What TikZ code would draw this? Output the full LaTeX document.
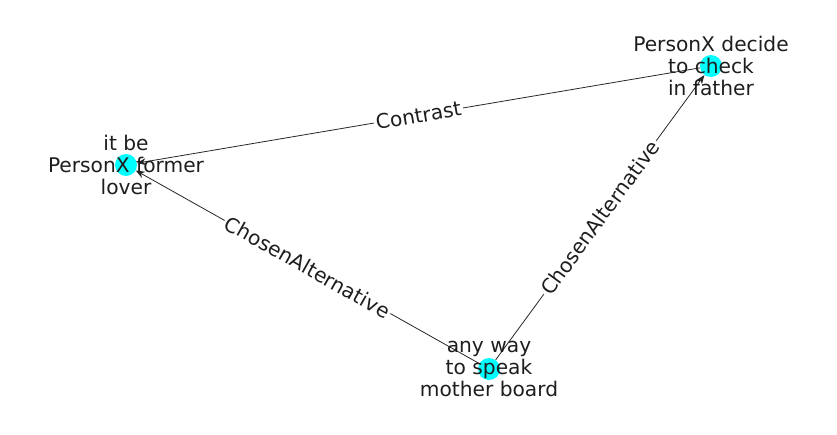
\documentclass[tikz,border=0pt]{standalone}
\usepackage{fontspec}
\setmainfont{DejaVu Sans}
\usetikzlibrary{arrows.meta}
\definecolor{nodecyan}{RGB}{0,255,255}
\definecolor{txt}{RGB}{30,30,30}
\tikzset{
  dot/.style={circle,fill=nodecyan,draw=none,minimum size=22pt,inner sep=0pt},
  lbl/.style={align=center,text=txt,font=\fontsize{20.2}{22}\selectfont,inner sep=0pt},
  edge/.style={draw=black!85,line width=0.8pt,-{Stealth[length=9pt,width=7pt]},shorten >=0pt},
  elbl/.style={fill=white,text=txt,font=\fontsize{20.2}{22}\selectfont,inner sep=2pt,sloped}
}
\begin{document}
\begin{tikzpicture}[x=1pt,y=-1pt]
\useasboundingbox (0,0) rectangle (837,434);
\node[dot] (a) at (126,165) {};
\node[dot] (b) at (711,66) {};
\node[dot] (c) at (489,369) {};
\draw[edge] (b) -- node[elbl,pos=0.5] {Contrast} (a);
\draw[edge] (c) -- node[elbl,pos=0.5] {ChosenAlternative} (a);
\draw[edge] (c) -- node[elbl,pos=0.5] {ChosenAlternative} (b);
\node[lbl] (la) at (126,165) {it be\\PersonX former\\lover};
\node[lbl] (lb) at (711,66) {PersonX decide\\to check\\in father};
\node[lbl] (lc) at (489,369) {any way\\to speak\\mother board};
\end{tikzpicture}
\end{document}
